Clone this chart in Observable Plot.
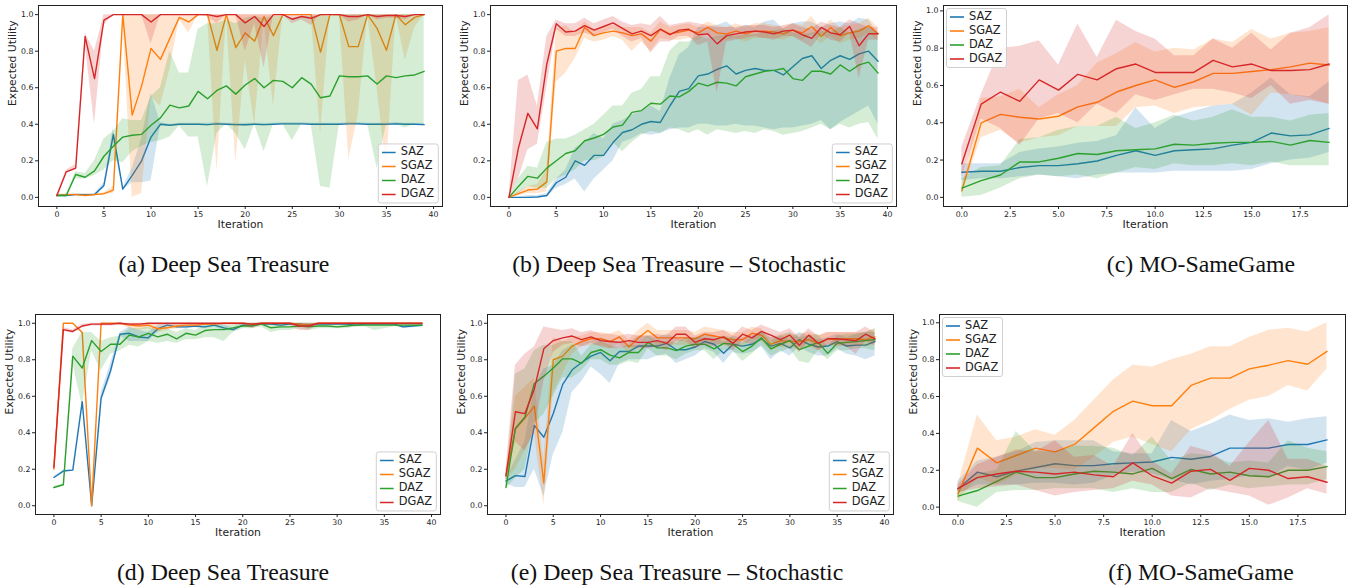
<!DOCTYPE html>
<html><head><meta charset="utf-8">
<script src="https://cdn.jsdelivr.net/npm/d3@7"></script>
<script src="https://cdn.jsdelivr.net/npm/@observablehq/plot@0.6"></script>
<style>
body{margin:0;width:1355px;height:588px;background:#fff;position:relative;overflow:hidden}
.panel{position:absolute}
.cap{position:absolute;font-family:"Liberation Serif","Times New Roman",serif;font-size:23.8px;line-height:26px;white-space:nowrap;transform:translateX(-50%);color:#111}
.legend{position:absolute;font-family:"DejaVu Sans",sans-serif;font-size:11.4px;color:#222;background:rgba(255,255,255,0.85);border:1px solid #d0d0d0;border-radius:3px;padding:1px 4px 1px 3px}
.legend .row{display:flex;align-items:center;height:13.9px;line-height:13.9px}
.legend svg{margin-right:5px}
</style>
</head><body>
<script>
// ---------------- data ----------------
const seriesNames = ["SAZ","SGAZ","DAZ","DGAZ"];
const seriesColors = ["#1f77b4","#ff7f0e","#2ca02c","#d62728"];
const yTickValues = [0,0.2,0.4,0.6,0.8,1.0];
const xTicks40 = [0,5,10,15,20,25,30,35,40];
const xTicks20 = [0,2.5,5,7.5,10,12.5,15,17.5];
const captions = ["(a) Deep Sea Treasure","(b) Deep Sea Treasure – Stochastic","(c) MO-SameGame","(d) Deep Sea Treasure","(e) Deep Sea Treasure – Stochastic","(f) MO-SameGame"];

// (a)
const aSAZ   = [0.01,0.01,0.015,0.015,0.015,0.065,0.345,0.045,0.12,0.2,0.33,0.4,0.395,0.4,0.4,0.4,0.398,0.402,0.4,0.398,0.397,0.4,0.398,0.4,0.402,0.402,0.402,0.4,0.4,0.4,0.4,0.402,0.402,0.4,0.4,0.4,0.402,0.4,0.4,0.398];
const aSAZlo = [0.005,0.005,0.01,0.01,0.01,0.05,0.3,0.04,0.08,0.08,0.09,0.39,0.39,0.395,0.395,0.395,0.39,0.395,0.395,0.39,0.39,0.395,0.39,0.395,0.395,0.395,0.395,0.395,0.395,0.395,0.395,0.395,0.395,0.395,0.395,0.395,0.395,0.395,0.395,0.39];
const aSAZhi = [0.015,0.015,0.02,0.02,0.02,0.08,0.38,0.05,0.16,0.32,0.57,0.41,0.4,0.405,0.405,0.405,0.405,0.41,0.405,0.405,0.405,0.405,0.405,0.405,0.41,0.41,0.41,0.405,0.405,0.405,0.405,0.41,0.41,0.405,0.405,0.405,0.41,0.405,0.405,0.405];
const aSGAZ   = [0.01,0.015,0.015,0.01,0.015,0.02,0.04,1.0,0.45,0.61,0.815,0.755,0.87,0.985,0.96,1.0,1.0,0.805,1.0,0.82,0.9,0.855,0.99,0.885,1.0,1.0,1.0,1.0,0.795,1.0,1.0,0.825,0.825,1.0,0.925,0.805,1.0,0.945,0.985,1.0];
const aSGAZlo = [0.005,0.01,0.01,0.005,0.01,0.015,0.02,0.98,0.0,0.02,0.55,0.5,0.7,0.97,0.9,1.0,1.0,0.14,1.0,0.19,0.75,0.4,0.97,0.5,1.0,1.0,1.0,1.0,0.35,1.0,1.0,0.21,0.45,1.0,0.6,0.15,1.0,0.75,0.93,1.0];
const aSGAZhi = [0.015,0.02,0.02,0.015,0.02,0.025,0.06,1.0,1.0,1.0,1.0,1.0,1.0,1.0,1.0,1.0,1.0,1.0,1.0,1.0,1.0,1.0,1.0,1.0,1.0,1.0,1.0,1.0,1.0,1.0,1.0,1.0,1.0,1.0,1.0,1.0,1.0,1.0,1.0,1.0];
const aDAZ   = [0.01,0.01,0.125,0.11,0.145,0.225,0.28,0.33,0.34,0.345,0.395,0.435,0.505,0.49,0.5,0.58,0.54,0.585,0.61,0.565,0.615,0.65,0.6,0.64,0.635,0.6,0.655,0.62,0.545,0.555,0.665,0.66,0.66,0.665,0.62,0.665,0.655,0.665,0.67,0.69];
const aDAZlo = [0.005,0.005,0.1,0.1,0.12,0.15,0.2,0.19,0.25,0.28,0.3,0.31,0.33,0.39,0.33,0.33,0.06,0.35,0.4,0.35,0.26,0.4,0.25,0.4,0.4,0.31,0.4,0.4,0.06,0.05,0.4,0.4,0.4,0.4,0.16,0.4,0.4,0.38,0.4,0.4];
const aDAZhi = [0.015,0.015,0.14,0.13,0.2,0.32,0.36,0.43,0.42,0.42,0.55,0.6,0.8,0.68,0.68,0.92,0.95,0.95,0.97,0.95,0.98,0.99,0.98,0.99,0.99,0.98,0.99,0.99,1.0,0.99,1.0,1.0,1.0,1.0,1.0,1.0,1.0,1.0,1.0,1.0];
const aDGAZ   = [0.01,0.14,0.16,0.88,0.65,0.97,1.0,1.0,1.0,1.0,0.96,1.0,1.0,1.0,1.0,1.0,1.0,0.99,1.0,1.0,0.955,0.99,0.935,1.0,1.0,0.975,0.99,0.98,1.0,1.0,1.0,0.99,0.99,1.0,0.99,0.995,0.995,0.99,1.0,1.0];
const aDGAZlo = [0.005,0.13,0.15,0.84,0.4,0.94,1.0,1.0,1.0,1.0,0.84,1.0,1.0,1.0,1.0,1.0,0.99,0.95,1.0,1.0,0.8,0.95,0.71,1.0,1.0,0.95,0.97,0.94,1.0,1.0,1.0,0.96,0.97,1.0,0.97,0.98,0.98,0.97,1.0,1.0];
const aDGAZhi = [0.015,0.15,0.18,0.9,0.8,1.0,1.0,1.0,1.0,1.0,1.0,1.0,1.0,1.0,1.0,1.0,1.0,1.0,1.0,1.0,1.0,1.0,1.0,1.0,1.0,1.0,1.0,1.0,1.0,1.0,1.0,1.0,1.0,1.0,1.0,1.0,1.0,1.0,1.0,1.0];

// (b)
const bSAZ   = [0,0,0,0.002,0.01,0.08,0.11,0.2,0.175,0.23,0.23,0.3,0.355,0.37,0.4,0.415,0.41,0.5,0.58,0.595,0.665,0.675,0.7,0.72,0.675,0.695,0.705,0.695,0.695,0.67,0.715,0.76,0.775,0.705,0.75,0.775,0.755,0.785,0.8,0.745];
const bSAZlo = [0,0,0,0,0,0.05,0.07,0.1,0.03,0.1,0.15,0.2,0.3,0.32,0.35,0.34,0.35,0.37,0.38,0.38,0.4,0.4,0.39,0.39,0.4,0.39,0.39,0.38,0.37,0.38,0.38,0.39,0.4,0.42,0.37,0.41,0.44,0.47,0.5,0.4];
const bSAZhi = [0,0,0.01,0.01,0.02,0.1,0.15,0.27,0.3,0.35,0.32,0.4,0.42,0.45,0.47,0.5,0.47,0.65,0.78,0.82,0.93,0.93,0.94,0.96,0.92,0.94,0.93,0.96,0.97,0.92,0.95,0.96,0.96,0.93,0.95,0.96,0.95,0.98,0.97,0.9];
const bSGAZ   = [0,0.02,0.04,0.045,0.085,0.8,0.815,0.815,0.93,0.885,0.9,0.91,0.9,0.885,0.895,0.855,0.92,0.895,0.905,0.915,0.9,0.93,0.9,0.895,0.91,0.895,0.91,0.91,0.905,0.895,0.915,0.9,0.935,0.88,0.93,0.885,0.9,0.91,0.94,0.895];
const bSGAZlo = [0,0.01,0.02,0.02,0.03,0.63,0.68,0.76,0.87,0.85,0.86,0.88,0.86,0.8,0.85,0.8,0.87,0.86,0.86,0.87,0.86,0.89,0.86,0.86,0.87,0.85,0.87,0.87,0.87,0.86,0.88,0.86,0.89,0.84,0.88,0.84,0.86,0.87,0.9,0.86];
const bSGAZhi = [0,0.03,0.06,0.07,0.15,0.92,0.94,0.9,0.96,0.92,0.93,0.94,0.93,0.93,0.93,0.9,0.96,0.93,0.94,0.95,0.93,0.96,0.94,0.93,0.95,0.93,0.95,0.95,0.94,0.93,0.95,0.94,0.99,0.92,0.97,0.93,0.94,0.95,0.98,0.93];
const bDAZ   = [0,0.06,0.115,0.105,0.16,0.2,0.24,0.255,0.31,0.325,0.345,0.385,0.395,0.465,0.475,0.515,0.51,0.555,0.55,0.58,0.625,0.61,0.63,0.625,0.61,0.66,0.675,0.69,0.695,0.705,0.65,0.64,0.69,0.69,0.675,0.725,0.69,0.725,0.74,0.68];
const bDAZlo = [0,0.02,0.06,0.05,0.05,0.1,0.12,0.15,0.2,0.2,0.22,0.3,0.25,0.3,0.34,0.36,0.35,0.38,0.37,0.35,0.37,0.34,0.37,0.36,0.35,0.36,0.35,0.37,0.36,0.34,0.35,0.36,0.38,0.4,0.37,0.4,0.38,0.4,0.41,0.32];
const bDAZhi = [0,0.1,0.17,0.16,0.3,0.32,0.32,0.34,0.37,0.4,0.45,0.5,0.5,0.57,0.59,0.66,0.66,0.8,0.85,0.85,0.88,0.87,0.88,0.89,0.88,0.89,0.89,0.9,0.91,0.92,0.9,0.89,0.9,0.91,0.9,0.93,0.9,0.92,0.93,0.9];
const bDGAZ   = [0,0.27,0.46,0.375,0.73,0.95,0.905,0.91,0.94,0.915,0.935,0.955,0.925,0.895,0.91,0.885,0.92,0.89,0.915,0.92,0.89,0.895,0.84,0.885,0.895,0.905,0.91,0.905,0.895,0.91,0.915,0.89,0.87,0.93,0.9,0.89,0.935,0.83,0.895,0.895];
const bDGAZlo = [0,0.1,0.26,0.29,0.6,0.92,0.88,0.88,0.9,0.88,0.9,0.92,0.88,0.85,0.87,0.79,0.85,0.85,0.88,0.88,0.83,0.85,0.57,0.85,0.86,0.87,0.88,0.87,0.86,0.88,0.88,0.85,0.82,0.89,0.86,0.85,0.9,0.65,0.86,0.86];
const bDGAZhi = [0,0.64,0.67,0.5,0.88,0.97,0.95,0.95,0.98,0.95,0.97,0.99,0.96,0.94,0.95,0.94,0.99,0.94,0.95,0.96,0.95,0.94,0.93,0.93,0.93,0.94,0.94,0.94,0.93,0.94,0.95,0.93,0.92,0.96,0.94,0.93,0.97,0.95,0.93,0.93];

// (c)
const cSAZ   = [0.135,0.14,0.14,0.16,0.17,0.17,0.18,0.195,0.225,0.25,0.225,0.25,0.255,0.26,0.28,0.295,0.345,0.33,0.335,0.37];
const cSAZlo = [0.09,0.1,0.1,0.11,0.12,0.11,0.1,0.12,0.13,0.13,0.13,0.14,0.14,0.14,0.14,0.15,0.18,0.2,0.21,0.24];
const cSAZhi = [0.18,0.18,0.18,0.24,0.26,0.27,0.29,0.3,0.33,0.48,0.37,0.43,0.46,0.49,0.5,0.56,0.64,0.55,0.54,0.62];
const cSGAZ   = [0.035,0.4,0.445,0.43,0.42,0.435,0.485,0.51,0.565,0.6,0.63,0.59,0.62,0.665,0.665,0.675,0.685,0.7,0.72,0.71];
const cSGAZlo = [0.02,0.32,0.36,0.29,0.32,0.33,0.38,0.38,0.38,0.48,0.49,0.45,0.48,0.49,0.5,0.44,0.56,0.55,0.53,0.5];
const cSGAZhi = [0.05,0.53,0.54,0.58,0.48,0.55,0.6,0.72,0.77,0.83,0.78,0.8,0.79,0.85,0.83,0.9,0.85,0.88,0.89,0.91];
const cDAZ   = [0.05,0.09,0.12,0.19,0.19,0.21,0.235,0.23,0.25,0.255,0.26,0.285,0.28,0.29,0.295,0.295,0.3,0.28,0.305,0.295];
const cDAZlo = [0.0,0.01,0.05,0.1,0.12,0.11,0.12,0.1,0.13,0.16,0.15,0.18,0.17,0.17,0.18,0.17,0.19,0.17,0.17,0.17];
const cDAZhi = [0.1,0.16,0.17,0.31,0.32,0.36,0.38,0.38,0.43,0.37,0.4,0.44,0.41,0.43,0.47,0.43,0.43,0.41,0.44,0.45];
const cDGAZ   = [0.18,0.5,0.565,0.515,0.63,0.575,0.66,0.63,0.69,0.715,0.67,0.67,0.67,0.735,0.7,0.715,0.68,0.68,0.685,0.715];
const cDGAZlo = [0.1,0.42,0.37,0.28,0.42,0.45,0.4,0.5,0.45,0.55,0.52,0.55,0.58,0.58,0.56,0.53,0.6,0.5,0.52,0.5];
const cDGAZhi = [0.27,0.55,0.8,0.81,0.84,0.71,0.93,0.75,0.95,0.89,0.85,0.76,0.76,0.85,0.8,0.88,0.79,0.88,0.91,0.98];

// (d)
const dSAZ   = [0.155,0.19,0.195,0.57,0.0,0.59,0.74,0.94,0.945,0.925,0.92,0.97,0.99,0.98,0.98,0.985,0.98,0.99,0.975,0.965,0.99,0.99,0.995,0.995,0.99,0.995,0.995,0.99,0.995,0.995,0.995,0.995,0.99,0.995,0.995,0.995,0.995,0.98,0.985,0.99];
const dSAZlo = [0.15,0.185,0.19,0.56,0.0,0.56,0.7,0.93,0.9,0.9,0.9,0.95,0.98,0.97,0.97,0.975,0.97,0.98,0.96,0.955,0.98,0.98,0.99,0.99,0.98,0.99,0.99,0.98,0.99,0.99,0.99,0.99,0.98,0.99,0.99,0.99,0.99,0.97,0.975,0.98];
const dSAZhi = [0.16,0.195,0.2,0.58,0.0,0.62,0.78,0.95,0.98,0.96,0.95,0.99,1.0,0.99,0.99,0.995,0.99,1.0,0.99,0.975,1.0,1.0,1.0,1.0,1.0,1.0,1.0,1.0,1.0,1.0,1.0,1.0,1.0,1.0,1.0,1.0,1.0,0.99,0.995,1.0];
const dSGAZ   = [0.2,1.0,1.0,0.95,0.0,1.0,1.0,1.0,0.99,0.985,0.99,0.97,0.975,0.985,0.99,0.99,0.995,0.995,1.0,1.0,1.0,0.995,1.0,1.0,1.0,1.0,0.995,0.99,1.0,1.0,1.0,1.0,1.0,1.0,1.0,1.0,1.0,1.0,1.0,1.0];
const dSGAZlo = [0.19,1.0,1.0,0.94,0.0,1.0,1.0,1.0,0.97,0.96,0.97,0.95,0.96,0.97,0.98,0.98,0.99,0.99,1.0,1.0,1.0,0.99,1.0,1.0,1.0,1.0,0.99,0.98,1.0,1.0,1.0,1.0,1.0,1.0,1.0,1.0,1.0,1.0,1.0,1.0];
const dSGAZhi = [0.21,1.0,1.0,0.96,0.0,1.0,1.0,1.0,1.0,1.0,1.0,0.99,0.99,1.0,1.0,1.0,1.0,1.0,1.0,1.0,1.0,1.0,1.0,1.0,1.0,1.0,1.0,1.0,1.0,1.0,1.0,1.0,1.0,1.0,1.0,1.0,1.0,1.0,1.0,1.0];
const dDAZ   = [0.1,0.115,0.82,0.755,0.905,0.845,0.885,0.885,0.935,0.925,0.945,0.925,0.94,0.915,0.945,0.935,0.96,0.965,0.965,0.975,0.985,0.985,0.995,0.975,0.98,0.98,0.985,0.98,0.985,0.985,0.98,0.985,0.99,0.99,0.99,0.99,0.99,0.99,0.99,0.99];
const dDAZlo = [0.095,0.11,0.78,0.55,0.85,0.74,0.83,0.85,0.88,0.87,0.9,0.89,0.9,0.89,0.91,0.91,0.92,0.92,0.9,0.95,0.97,0.97,0.98,0.95,0.96,0.96,0.97,0.96,0.97,0.97,0.97,0.97,0.98,0.98,0.96,0.97,0.98,0.98,0.98,0.98];
const dDAZhi = [0.105,0.12,0.86,0.95,0.95,0.9,0.92,0.93,0.97,0.97,0.98,0.96,0.97,0.95,0.97,0.96,0.99,0.99,0.99,0.99,1.0,1.0,1.0,1.0,1.0,1.0,1.0,1.0,1.0,1.0,0.99,1.0,1.0,1.0,1.0,1.0,1.0,1.0,1.0,1.0];
const dDGAZ   = [0.21,0.965,0.955,0.985,0.995,0.995,0.995,1.0,0.995,0.995,1.0,1.0,1.0,1.0,1.0,1.0,1.0,1.0,1.0,1.0,1.0,0.995,1.0,1.0,1.0,1.0,0.985,0.985,1.0,1.0,1.0,1.0,1.0,1.0,1.0,1.0,1.0,1.0,1.0,1.0];
const dDGAZlo = [0.2,0.955,0.945,0.975,0.985,0.985,0.985,0.99,0.985,0.985,0.99,0.99,0.99,0.99,0.99,0.99,0.99,0.99,0.99,0.99,0.99,0.97,0.99,0.99,0.99,0.99,0.96,0.96,0.99,0.99,0.99,0.99,0.99,0.99,0.99,0.99,0.99,0.99,0.99,0.99];
const dDGAZhi = [0.22,0.975,0.965,0.995,1.0,1.0,1.0,1.0,1.0,1.0,1.0,1.0,1.0,1.0,1.0,1.0,1.0,1.0,1.0,1.0,1.0,1.0,1.0,1.0,1.0,1.0,1.0,1.0,1.0,1.0,1.0,1.0,1.0,1.0,1.0,1.0,1.0,1.0,1.0,1.0];

// (e)
const eSAZ   = [0.135,0.165,0.16,0.44,0.375,0.505,0.665,0.745,0.785,0.82,0.84,0.795,0.845,0.845,0.875,0.875,0.875,0.89,0.855,0.855,0.87,0.9,0.885,0.835,0.885,0.875,0.885,0.915,0.875,0.89,0.865,0.91,0.885,0.87,0.875,0.9,0.875,0.88,0.88,0.9];
const eSAZlo = [0.12,0.1,0.1,0.2,0.05,0.28,0.4,0.62,0.68,0.76,0.72,0.67,0.78,0.8,0.8,0.8,0.82,0.83,0.78,0.8,0.82,0.86,0.84,0.78,0.84,0.83,0.84,0.87,0.8,0.85,0.82,0.87,0.84,0.82,0.82,0.86,0.83,0.82,0.8,0.82];
const eSAZhi = [0.15,0.25,0.35,0.65,0.75,0.77,0.85,0.88,0.9,0.9,0.92,0.9,0.9,0.89,0.93,0.93,0.92,0.94,0.92,0.9,0.92,0.94,0.93,0.89,0.93,0.92,0.93,0.95,0.92,0.93,0.91,0.95,0.93,0.91,0.92,0.94,0.92,0.94,0.95,0.95];
const eSGAZ   = [0.16,0.42,0.48,0.545,0.125,0.8,0.82,0.875,0.9,0.915,0.915,0.9,0.925,0.87,0.92,0.96,0.92,0.92,0.92,0.92,0.915,0.94,0.93,0.92,0.91,0.91,0.945,0.935,0.885,0.905,0.9,0.9,0.91,0.89,0.915,0.91,0.915,0.915,0.91,0.925];
const eSGAZlo = [0.14,0.2,0.3,0.4,0.0,0.62,0.72,0.83,0.87,0.88,0.88,0.86,0.89,0.83,0.88,0.92,0.88,0.88,0.88,0.88,0.88,0.9,0.89,0.88,0.87,0.87,0.91,0.9,0.85,0.87,0.86,0.86,0.87,0.85,0.88,0.87,0.88,0.88,0.87,0.88];
const eSGAZhi = [0.18,0.6,0.65,0.7,0.25,0.92,0.9,0.92,0.93,0.95,0.95,0.94,0.96,0.91,0.96,1.0,0.96,0.96,0.96,0.96,0.95,0.98,0.97,0.96,0.95,0.95,0.98,0.97,0.92,0.94,0.94,0.94,0.95,0.93,0.95,0.95,0.95,0.95,0.95,0.97];
const eDAZ   = [0.1,0.425,0.485,0.67,0.71,0.755,0.805,0.805,0.78,0.84,0.855,0.825,0.81,0.84,0.84,0.895,0.865,0.865,0.85,0.875,0.885,0.885,0.86,0.89,0.885,0.845,0.875,0.92,0.86,0.885,0.905,0.855,0.875,0.895,0.835,0.89,0.895,0.9,0.905,0.91];
const eDAZlo = [0.09,0.15,0.2,0.45,0.5,0.6,0.7,0.7,0.74,0.8,0.8,0.77,0.77,0.79,0.78,0.86,0.82,0.82,0.8,0.83,0.85,0.85,0.8,0.85,0.85,0.79,0.83,0.88,0.82,0.84,0.86,0.79,0.78,0.85,0.8,0.85,0.85,0.86,0.86,0.85];
const eDAZhi = [0.11,0.72,0.75,0.85,0.88,0.88,0.9,0.9,0.82,0.88,0.9,0.88,0.86,0.88,0.88,0.93,0.9,0.9,0.89,0.92,0.92,0.92,0.91,0.93,0.92,0.89,0.92,0.96,0.9,0.93,0.95,0.92,0.93,0.94,0.87,0.93,0.94,0.94,0.95,0.97];
const eDGAZ   = [0.165,0.515,0.505,0.64,0.86,0.905,0.92,0.93,0.91,0.925,0.905,0.9,0.895,0.905,0.895,0.895,0.905,0.89,0.94,0.94,0.895,0.915,0.91,0.925,0.89,0.94,0.92,0.955,0.935,0.91,0.935,0.88,0.935,0.89,0.915,0.915,0.91,0.905,0.94,0.915];
const eDGAZlo = [0.14,0.35,0.3,0.4,0.68,0.84,0.88,0.89,0.87,0.89,0.87,0.86,0.86,0.87,0.86,0.86,0.87,0.85,0.9,0.9,0.86,0.88,0.87,0.89,0.85,0.9,0.88,0.92,0.9,0.87,0.9,0.84,0.9,0.85,0.88,0.88,0.87,0.83,0.9,0.88];
const eDGAZhi = [0.2,0.77,0.83,0.87,0.98,0.97,0.96,0.97,0.95,0.96,0.94,0.94,0.93,0.94,0.93,0.93,0.94,0.93,0.98,0.98,0.93,0.95,0.95,0.96,0.93,0.98,0.96,0.99,0.97,0.95,0.97,0.92,0.97,0.93,0.95,0.95,0.95,0.95,0.98,0.95];

// (f)
const fSAZ   = [0.1,0.19,0.165,0.195,0.215,0.235,0.225,0.225,0.235,0.24,0.245,0.27,0.26,0.275,0.32,0.32,0.32,0.34,0.34,0.365];
const fSAZlo = [0.07,0.12,0.12,0.12,0.13,0.13,0.12,0.13,0.17,0.19,0.18,0.15,0.12,0.14,0.15,0.17,0.16,0.22,0.2,0.24];
const fSAZhi = [0.14,0.25,0.27,0.3,0.35,0.36,0.36,0.36,0.3,0.29,0.29,0.47,0.41,0.45,0.5,0.47,0.48,0.46,0.48,0.49];
const fSGAZ   = [0.07,0.32,0.24,0.28,0.32,0.3,0.34,0.43,0.52,0.575,0.55,0.55,0.66,0.7,0.7,0.75,0.77,0.795,0.775,0.845];
const fSGAZlo = [0.03,0.16,0.12,0.17,0.21,0.21,0.2,0.27,0.35,0.38,0.34,0.3,0.42,0.47,0.53,0.58,0.6,0.66,0.63,0.75];
const fSGAZhi = [0.12,0.5,0.36,0.38,0.42,0.39,0.47,0.58,0.69,0.77,0.76,0.8,0.83,0.87,0.87,0.92,0.96,0.97,0.95,1.0];
const fDAZ   = [0.06,0.09,0.14,0.19,0.16,0.16,0.18,0.195,0.19,0.18,0.21,0.155,0.205,0.18,0.19,0.17,0.165,0.2,0.2,0.22];
const fDAZlo = [0.03,0.0,0.08,0.09,0.09,0.1,0.1,0.1,0.08,0.1,0.08,0.08,0.13,0.09,0.12,0.1,0.11,0.12,0.12,0.15];
const fDAZhi = [0.09,0.18,0.2,0.41,0.3,0.3,0.33,0.33,0.32,0.28,0.38,0.25,0.29,0.28,0.24,0.25,0.24,0.36,0.32,0.3];
const fDGAZ   = [0.1,0.16,0.18,0.195,0.19,0.18,0.19,0.175,0.165,0.24,0.17,0.13,0.195,0.205,0.145,0.21,0.2,0.155,0.165,0.135];
const fDGAZlo = [0.08,0.1,0.11,0.12,0.09,0.06,0.08,0.09,0.1,0.14,0.12,0.06,0.05,0.1,0.08,0.06,0.01,0.05,0.1,0.07];
const fDGAZhi = [0.12,0.23,0.27,0.31,0.3,0.36,0.27,0.28,0.22,0.4,0.25,0.18,0.33,0.3,0.22,0.35,0.47,0.26,0.26,0.22];

// ---------------- layout ----------------
const panels = [
  {cap:0, mean:[aSAZ,aSGAZ,aDAZ,aDGAZ], lo:[aSAZlo,aSGAZlo,aDAZlo,aDGAZlo], hi:[aSAZhi,aSGAZhi,aDAZhi,aDGAZhi], fx:38, fy:5, fw:404, fh:201, xd:[-1.95,40.95], yd:[-0.05,1.05], xt:xTicks40, fmt:d3.format("d"), leg:"br", capX:224, capY:251},
  {cap:1, mean:[bSAZ,bSGAZ,bDAZ,bDGAZ], lo:[bSAZlo,bSGAZlo,bDAZlo,bDGAZlo], hi:[bSAZhi,bSGAZhi,bDAZhi,bDGAZhi], fx:490, fy:5, fw:406, fh:201, xd:[-1.95,40.95], yd:[-0.05,1.05], xt:xTicks40, fmt:d3.format("d"), leg:"br", capX:679, capY:251},
  {cap:2, mean:[cSAZ,cSGAZ,cDAZ,cDGAZ], lo:[cSAZlo,cSGAZlo,cDAZlo,cDGAZlo], hi:[cSAZhi,cSGAZhi,cDAZhi,cDGAZhi], fx:943, fy:5, fw:404, fh:201, xd:[-0.95,19.95], yd:[-0.049,1.029], xt:xTicks20, fmt:d3.format(".1f"), leg:"tl", capX:1201, capY:251},
  {cap:3, mean:[dSAZ,dSGAZ,dDAZ,dDGAZ], lo:[dSAZlo,dSGAZlo,dDAZlo,dDGAZlo], hi:[dSAZhi,dSGAZhi,dDAZhi,dDGAZhi], fx:35, fy:314, fw:405, fh:200, xd:[-1.95,40.95], yd:[-0.048,1.048], xt:xTicks40, fmt:d3.format("d"), leg:"br", capX:223, capY:559},
  {cap:4, mean:[eSAZ,eSGAZ,eDAZ,eDGAZ], lo:[eSAZlo,eSGAZlo,eDAZlo,eDGAZlo], hi:[eSAZhi,eSGAZhi,eDAZhi,eDGAZhi], fx:487, fy:314, fw:406, fh:200, xd:[-1.95,40.95], yd:[-0.048,1.048], xt:xTicks40, fmt:d3.format("d"), leg:"br", capX:677, capY:559},
  {cap:5, mean:[fSAZ,fSGAZ,fDAZ,fDGAZ], lo:[fSAZlo,fSGAZlo,fDAZlo,fDGAZlo], hi:[fSAZhi,fSGAZhi,fDAZhi,fDGAZhi], fx:939, fy:314, fw:406, fh:200, xd:[-0.95,19.95], yd:[-0.04,1.045], xt:xTicks20, fmt:d3.format(".1f"), leg:"tl", capX:1201, capY:559}
];

const mL = 36, mR = 6, mT = 5, mB = 36;

function makeLegend(p) {
  const lg = document.createElement("div");
  lg.className = "legend";
  seriesNames.forEach((n, i) => {
    const row = document.createElement("div");
    row.className = "row";
    row.innerHTML = `<svg width="14" height="6"><line x1="0" x2="14" y1="3" y2="3" stroke="${seriesColors[i]}" stroke-width="1.6"/></svg><span>${n}</span>`;
    lg.appendChild(row);
  });
  document.body.appendChild(lg);
  if (p.leg === "br") {
    lg.style.left = (p.fx + p.fw - 3) + "px";
    lg.style.top = (p.fy + p.fh - 3) + "px";
    lg.style.transform = "translate(-100%,-100%)";
  } else {
    lg.style.left = (p.fx + 3) + "px";
    lg.style.top = (p.fy + 3) + "px";
  }
}

panels.forEach(p => {
  const marks = [];
  seriesNames.forEach((name, si) => {
    const rows = p.mean[si].map((v, i) => ({x: i, y: v, lo: p.lo[si][i], hi: p.hi[si][i]}));
    marks.push(Plot.areaY(rows, {x: "x", y1: "lo", y2: "hi", fill: seriesColors[si], fillOpacity: 0.2}));
    marks.push(Plot.lineY(rows, {x: "x", y: "y", stroke: seriesColors[si], strokeWidth: 1.4}));
  });
  marks.push(Plot.frame({stroke: "#222", strokeWidth: 1}));
  marks.push(Plot.text(["Iteration"], {frameAnchor: "bottom", dy: 21.5, fontSize: 10.8, fill: "#222"}));
  marks.push(Plot.text(["Expected Utility"], {frameAnchor: "left", dx: -26, rotate: -90, fontSize: 10.8, fill: "#222"}));

  const chart = Plot.plot({
    width: p.fw + mL + mR,
    height: p.fh + mT + mB,
    marginLeft: mL, marginRight: mR, marginTop: mT, marginBottom: mB,
    x: {domain: p.xd, ticks: p.xt, tickFormat: p.fmt, tickSize: 3, tickPadding: 2, label: null},
    y: {domain: p.yd, ticks: yTickValues, tickFormat: d3.format(".1f"), tickSize: 3, tickPadding: 2, label: null},
    style: {fontFamily: "DejaVu Sans, sans-serif", fontSize: "7.8px", color: "#222", background: "transparent", overflow: "visible"},
    marks
  });
  const wrap = document.createElement("div");
  wrap.className = "panel";
  wrap.style.left = (p.fx - mL) + "px";
  wrap.style.top = (p.fy - mT) + "px";
  wrap.appendChild(chart);
  document.body.appendChild(wrap);

  makeLegend(p);

  const cap = document.createElement("div");
  cap.className = "cap";
  cap.textContent = captions[p.cap];
  cap.style.left = p.capX + "px";
  cap.style.top = p.capY + "px";
  document.body.appendChild(cap);
});
</script>
</body></html>
